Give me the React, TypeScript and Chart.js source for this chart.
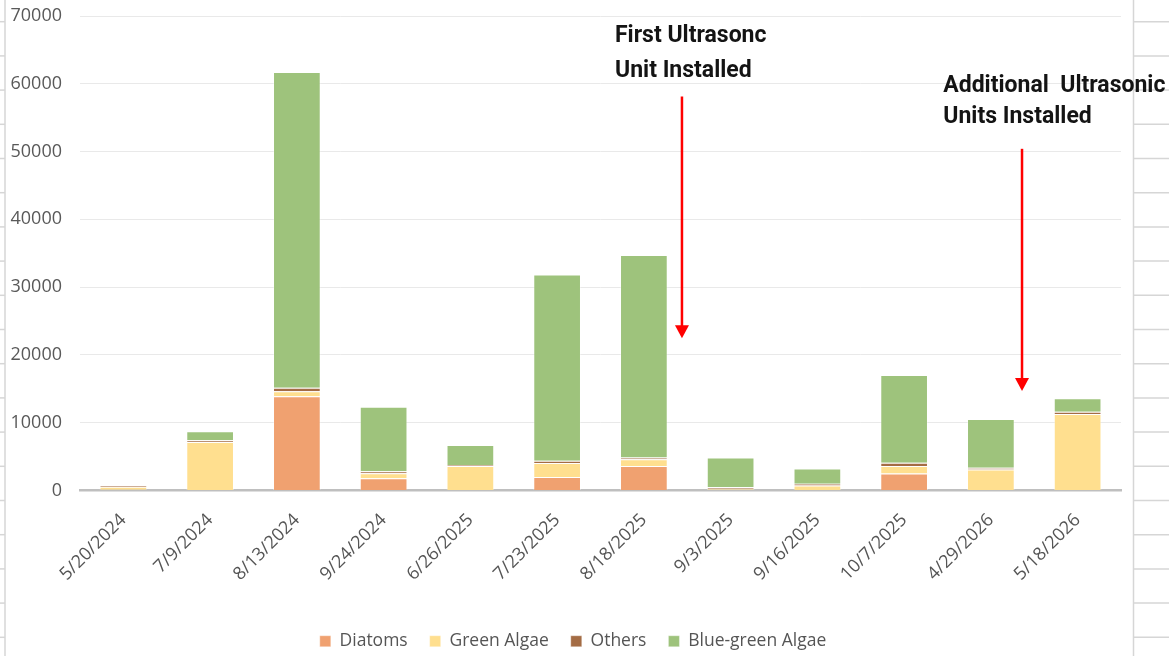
import React, { useEffect, useRef } from "react";
import { Chart, registerables } from "chart.js";

Chart.register(...registerables);

// ---- data ----
const categories = [
  "5/20/2024", "7/9/2024", "8/13/2024", "9/24/2024", "6/26/2025", "7/23/2025",
  "8/18/2025", "9/3/2025", "9/16/2025", "10/7/2025", "4/29/2026", "5/18/2026",
];
const diatoms = [100, 0, 13900, 1800, 0, 2000, 3600, 0, 0, 2500, 0, 0];
const greenAlgae = [450, 7150, 750, 750, 3600, 2050, 1000, 250, 750, 1100, 3100, 11300];
const others = [250, 250, 500, 300, 150, 350, 250, 250, 250, 500, 250, 300];
const blueGreenAlgae = [0, 1350, 46600, 9500, 2950, 27450, 29900, 4350, 2250, 12950, 7200, 2000];

const yMin = 0;
const yMax = 70000;
const yStep = 10000;

// annotation anchors in data space (category index, value)
const annotationTexts = [
  ["First Ultrasonc", "Unit Installed"],
  ["Additional  Ultrasonic", "Units Installed"],
];
const annotationTextX = [5.667, 9.451];
const annotationTextY = [[66140, 60928], [58774, 54199]];
const arrowX = [6.439, 10.359];
const arrowTop = [58124, 50407];
const arrowTip = [22474, 14697];

const COLORS = {
  diatoms: "rgb(240,161,112)",
  green: "rgb(255,223,143)",
  others: "rgb(164,108,68)",
  bga: "rgb(158,195,124)",
};

const sheetPlugin = {
  id: "sheetBackground",
  afterLayout(chart: any) {
    // the legend sits centred under the whole chart object, not the canvas
    const lg = chart.legend;
    if (lg) {
      lg.left += 12.5;
      lg.right += 12.5;
    }
  },
  beforeDraw(chart: any) {
    const ctx = chart.ctx;
    const w = chart.width;
    const h = chart.height;
    ctx.save();
    ctx.fillStyle = "#ffffff";
    ctx.fillRect(0, 0, w, h);
    ctx.strokeStyle = "#d6d6d6";
    ctx.lineWidth = 1.5;
    ctx.beginPath();
    ctx.moveTo(5, 0);
    ctx.lineTo(5, h);
    ctx.stroke();
    ctx.beginPath();
    ctx.moveTo(1133.5, 0);
    ctx.lineTo(1133.5, h);
    ctx.stroke();
    for (let y = 21.7; y < h; y += 34.2) {
      ctx.beginPath();
      ctx.moveTo(0, y);
      ctx.lineTo(5, y);
      ctx.stroke();
      ctx.beginPath();
      ctx.moveTo(1134, y);
      ctx.lineTo(w, y);
      ctx.stroke();
    }
    ctx.restore();
  },
};

const annotationPlugin = {
  id: "installAnnotations",
  afterDraw(chart: any) {
    const ctx = chart.ctx;
    const xs = chart.scales.x;
    const ys = chart.scales.y;
    ctx.save();
    ctx.font = "bold 23px Roboto";
    ctx.textAlign = "left";
    ctx.textBaseline = "alphabetic";
    annotationTexts.forEach((lines, i) => {
      ctx.fillStyle = "#141414";
      const tx = xs.getPixelForValue(annotationTextX[i]);
      lines.forEach((line, j) => {
        ctx.fillText(line, tx, ys.getPixelForValue(annotationTextY[i][j]));
      });
      const ax = xs.getPixelForValue(arrowX[i]);
      const top = ys.getPixelForValue(arrowTop[i]);
      const tip = ys.getPixelForValue(arrowTip[i]);
      const headLen = 13;
      ctx.strokeStyle = "#ff0000";
      ctx.fillStyle = "#ff0000";
      ctx.lineWidth = 2.5;
      ctx.beginPath();
      ctx.moveTo(ax, top);
      ctx.lineTo(ax, tip - headLen + 1);
      ctx.stroke();
      ctx.beginPath();
      ctx.moveTo(ax - 7, tip - headLen);
      ctx.lineTo(ax + 7, tip - headLen);
      ctx.lineTo(ax, tip);
      ctx.closePath();
      ctx.fill();
    });
    ctx.restore();
  },
};

export default function App() {
  const canvasRef = useRef<HTMLCanvasElement | null>(null);

  useEffect(() => {
    if (!canvasRef.current) return;
    const border = "rgba(255,255,255,0.35)";
    const mk = (label: string, data: number[], color: string) => ({
      label,
      data,
      backgroundColor: color,
      borderColor: border,
      borderWidth: 1,
      categoryPercentage: 1,
      barPercentage: 0.55,
    });
    const chart = new Chart(canvasRef.current, {
      type: "bar",
      data: {
        labels: categories,
        datasets: [
          mk("Diatoms", diatoms, COLORS.diatoms),
          mk("Green Algae", greenAlgae, COLORS.green),
          mk("Others", others, COLORS.others),
          mk("Blue-green Algae", blueGreenAlgae, COLORS.bga),
        ],
      },
      options: {
        responsive: false,
        animation: false,
        layout: { padding: { left: 0, right: 48, top: 16, bottom: 0 } },
        scales: {
          x: {
            stacked: true,
            grid: { display: false, drawTicks: false },
            border: { display: true, color: "#BFBFBF", width: 2.5 },
            ticks: {
              autoSkip: false,
              minRotation: 45,
              maxRotation: 45,
              padding: 19,
              color: "#555555",
              font: { family: "'Open Sans'", size: 18 },
            },
            afterFit: (s: any) => {
              s.height = 120;
            },
          },
          y: {
            stacked: true,
            min: yMin,
            max: yMax,
            grid: { color: "#E9E9E9", lineWidth: 1, drawTicks: false },
            border: { display: false },
            ticks: {
              stepSize: yStep,
              padding: 18,
              color: "#595959",
              font: { family: "'Open Sans'", size: 18 },
              callback: (v: any) => String(v),
            },
            afterFit: (s: any) => {
              s.width = 80;
              s.paddingTop = 0;
              s.paddingBottom = 0;
            },
          },
        },
        plugins: {
          tooltip: { enabled: false },
          legend: {
            position: "bottom",
            labels: {
              boxWidth: 11,
              boxHeight: 11,
              padding: 22,
              color: "#555555",
              font: { family: "'Open Sans'", size: 17.5 },
            },
          },
        },
      },
      plugins: [sheetPlugin, annotationPlugin],
    } as any);
    return () => chart.destroy();
  }, []);

  return (
    <div
      style={{
        position: "fixed",
        top: 0,
        left: 0,
        width: 1169,
        height: 656,
        overflow: "hidden",
        background: "#fff",
      }}
    >
      <canvas ref={canvasRef} width={1169} height={660} style={{ display: "block" }} />
    </div>
  );
}
